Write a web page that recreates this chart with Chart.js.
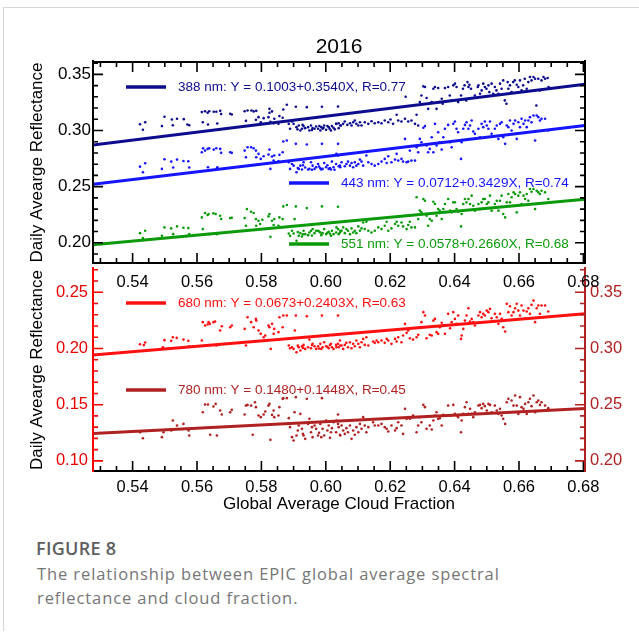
<!DOCTYPE html>
<html>
<head>
<meta charset="utf-8">
<script src="https://cdn.jsdelivr.net/npm/chart.js@4.4.0/dist/chart.umd.min.js"></script>
<style>
  html, body { margin: 0; padding: 0; background: #fff; }
  #wrap { position: relative; width: 639px; height: 633px; overflow: hidden; }
  #frame { position: absolute; left: 3px; top: 7px; width: 700px; height: 623px;
           border-left: 1px solid #d6d6d6; border-top: 1px solid #d6d6d6; }
  canvas { position: absolute; left: 0; top: 0; }
  #capTitle { position: absolute; left: 36px; top: 537px; font: 600 18px/22px 'Open Sans', sans-serif;
              color: #5e5e5e; letter-spacing: 0.3px; white-space: nowrap; }
  #capText { position: absolute; left: 37px; top: 562px; font: 400 16.5px/24px 'Open Sans', sans-serif;
             color: #767676; letter-spacing: 0.9px; white-space: nowrap; }
</style>
</head>
<body>
<div id="wrap">
  <div id="frame"></div>
  <canvas id="lower" width="639" height="530"></canvas>
  <canvas id="upper" width="639" height="300"></canvas>
  <div id="capTitle">FIGURE 8</div>
  <div id="capText">The relationship between EPIC global average spectral<br>reflectance and cloud fraction.</div>
</div>
<script>
// ---- axis ranges and tick labels ----
const xMin = 0.5277, xMax = 0.6805;
const xMajor = [0.54, 0.56, 0.58, 0.60, 0.62, 0.64, 0.66, 0.68];
const upperMin = 0.182, upperMax = 0.361;
const upperMajor = [0.20, 0.25, 0.30, 0.35];
const lowerMin = 0.091, lowerMax = 0.2707;
const lowerMajor = [0.10, 0.15, 0.20, 0.25];
const lowerRightMin = 0.191, lowerRightMax = 0.3707;
const lowerRightMajor = [0.20, 0.25, 0.30, 0.35];

// ---- wavelengths and regression fits (Y = a + bX) ----
const bands = ['388', '443', '551', '680', '780'];
const fitA = [0.1003, 0.0712, 0.0578, 0.0673, 0.1480];
const fitB = [0.3540, 0.3429, 0.2660, 0.2403, 0.1448];
const fitR = [0.77, 0.74, 0.68, 0.63, 0.45];
const bandColors = ['#0c0c8e', '#1414ff', '#0a9a0a', '#ff1010', '#b02222'];

// ---- daily points: [cloud fraction, reflectance] ----
const pts388 = [
[0.5423,0.3056],[0.5439,0.3074],[0.5432,0.3006],[0.5491,0.3039],[0.5499,0.3122],[0.5522,0.3098],[0.5525,0.3047],[0.5538,0.3104],[0.5559,0.3101],[0.5570,0.3053],[0.5576,0.3047],
[0.5615,0.3164],[0.5618,0.3074],[0.5625,0.3172],[0.5633,0.3158],[0.5634,0.3053],[0.5638,0.3172],[0.5652,0.3167],[0.5660,0.3167],[0.5663,0.3062],[0.5672,0.3175],[0.5675,0.3146],[0.5703,0.3149],[0.5708,0.3143],
[0.5748,0.3172],[0.5752,0.3086],[0.5757,0.3178],[0.5769,0.3178],[0.5776,0.3170],[0.5784,0.3175],[0.5783,0.3095],[0.5791,0.3119],[0.5798,0.3074],[0.5807,0.3110],[0.5822,0.3119],[0.5825,0.3193],[0.5825,0.3158],[0.5828,0.3077],[0.5833,0.3170],[0.5838,0.3065],[0.5840,0.3104],[0.5853,0.3059],[0.5856,0.3128],[0.5866,0.3113],[0.5868,0.3187],[0.5879,0.3229],
[0.5885,0.3059],[0.5889,0.3015],[0.5895,0.3080],[0.5900,0.3059],[0.5907,0.3211],[0.5909,0.3030],[0.5912,0.3010],[0.5916,0.3045],[0.5921,0.3000],[0.5926,0.3015],[0.5928,0.3050],[0.5931,0.3039],[0.5936,0.3021],[0.5941,0.3208],[0.5945,0.3030],[0.5949,0.3000],[0.5954,0.3045],[0.5957,0.3005],[0.5959,0.3021],[0.5965,0.3015],[0.5970,0.3036],[0.5976,0.3015],[0.5980,0.3040],[0.5983,0.3000],[0.5986,0.3030],[0.5988,0.3211],[0.5990,0.3015],[0.5993,0.3025],[0.5995,0.3045],[0.6001,0.3006],[0.6005,0.3040],[0.6009,0.3030],[0.6012,0.3015],[0.6016,0.3000],[0.6019,0.3039],[0.6024,0.3024],[0.6028,0.3010],[0.6032,0.3059],[0.6038,0.3214],[0.6040,0.3021],[0.6045,0.3045],
[0.6033,0.3059],[0.6040,0.3065],[0.6047,0.3045],[0.6054,0.3059],[0.6059,0.3080],[0.6067,0.3050],[0.6075,0.3065],[0.6080,0.3045],[0.6085,0.3074],[0.6090,0.3089],[0.6095,0.3059],[0.6101,0.3045],[0.6106,0.3074],[0.6111,0.3045],[0.6121,0.3074],[0.6132,0.3059],[0.6142,0.3083],[0.6152,0.3065],[0.6163,0.3074],[0.6173,0.3065],[0.6183,0.3089],[0.6194,0.3074],[0.6201,0.3098],[0.6209,0.3059],[0.6220,0.3140],[0.6225,0.3089],[0.6235,0.3080],[0.6246,0.3104],[0.6248,0.3300],[0.6256,0.3080],[0.6266,0.3089],[0.6277,0.3059],[0.6282,0.3140],[0.6287,0.3045],
[0.6292,0.3253],[0.6297,0.3312],[0.6303,0.3393],[0.6308,0.3387],[0.6313,0.3289],[0.6318,0.3193],[0.6329,0.3253],[0.6334,0.3372],[0.6339,0.3387],[0.6344,0.3193],[0.6349,0.3378],[0.6354,0.3253],[0.6360,0.3283],[0.6363,0.3238],[0.6370,0.3378],[0.6380,0.3387],[0.6385,0.3312],[0.6391,0.3268],[0.6396,0.3402],[0.6401,0.3417],[0.6406,0.3387],[0.6411,0.3253],[0.6420,0.3312],[0.6426,0.3372],[0.6431,0.3402],[0.6436,0.3268],[0.6440,0.3431],[0.6443,0.3387],[0.6446,0.3408],[0.6451,0.3372],[0.6463,0.3312],[0.6472,0.3387],[0.6474,0.3402],[0.6479,0.3327],[0.6484,0.3357],[0.6489,0.3417],[0.6494,0.3387],[0.6499,0.3372],[0.6505,0.3402],[0.6508,0.3342],[0.6515,0.3417],[0.6520,0.3327],[0.6525,0.3387],[0.6530,0.3357],[0.6536,0.3327],[0.6541,0.3417],[0.6546,0.3372],[0.6551,0.3446],[0.6556,0.3268],[0.6561,0.3238],[0.6565,0.3431],[0.6567,0.3372],[0.6572,0.3402],[0.6577,0.3342],[0.6582,0.3431],[0.6587,0.3446],[0.6593,0.3408],[0.6598,0.3387],[0.6603,0.3446],[0.6608,0.3357],[0.6613,0.3402],[0.6618,0.3461],[0.6624,0.3372],[0.6629,0.3431],[0.6634,0.3476],[0.6639,0.3446],[0.6645,0.3476],[0.6650,0.3461],[0.6654,0.3223],[0.6660,0.3461],[0.6665,0.3357],[0.6670,0.3446],[0.6676,0.3476],[0.6681,0.3461],[0.6689,0.3468],[0.6692,0.3387]
];
const pts443 = [
[0.5423,0.2678],[0.5439,0.2708],[0.5432,0.2628],[0.5491,0.2658],[0.5499,0.2744],[0.5520,0.2723],[0.5526,0.2670],[0.5538,0.2741],[0.5558,0.2729],[0.5573,0.2726],[0.5576,0.2670],
[0.5615,0.2806],[0.5619,0.2842],[0.5625,0.2821],[0.5633,0.2836],[0.5634,0.2673],[0.5638,0.2842],[0.5652,0.2830],[0.5660,0.2842],[0.5663,0.2673],[0.5672,0.2836],[0.5675,0.2801],[0.5703,0.2806],[0.5708,0.2801],
[0.5748,0.2821],[0.5752,0.2762],[0.5757,0.2851],[0.5768,0.2851],[0.5776,0.2842],[0.5783,0.2821],[0.5784,0.2762],[0.5791,0.2792],[0.5798,0.2747],[0.5807,0.2771],[0.5822,0.2786],[0.5825,0.2830],[0.5828,0.2658],[0.5833,0.2768],[0.5838,0.2732],[0.5840,0.2777],[0.5853,0.2726],[0.5856,0.2783],[0.5866,0.2806],[0.5868,0.2902],[0.5879,0.2911],
[0.5885,0.2717],[0.5889,0.2658],[0.5895,0.2702],[0.5900,0.2687],[0.5907,0.2881],[0.5909,0.2628],[0.5913,0.2665],[0.5916,0.2658],[0.5921,0.2687],[0.5926,0.2652],[0.5929,0.2690],[0.5931,0.2717],[0.5936,0.2670],[0.5941,0.2875],[0.5945,0.2652],[0.5949,0.2658],[0.5954,0.2717],[0.5957,0.2650],[0.5959,0.2687],[0.5965,0.2658],[0.5970,0.2673],[0.5976,0.2702],[0.5979,0.2680],[0.5983,0.2664],[0.5986,0.2652],[0.5988,0.2881],[0.5990,0.2658],[0.5995,0.2711],[0.6001,0.2673],[0.6005,0.2690],[0.6009,0.2658],[0.6013,0.2665],[0.6016,0.2652],[0.6019,0.2723],[0.6024,0.2673],[0.6027,0.2650],[0.6032,0.2702],[0.6038,0.2881],[0.6040,0.2681],[0.6045,0.2673],
[0.6033,0.2792],[0.6038,0.2777],[0.6044,0.2687],[0.6049,0.2717],[0.6059,0.2681],[0.6064,0.2702],[0.6069,0.2723],[0.6075,0.2687],[0.6080,0.2711],[0.6085,0.2673],[0.6090,0.2717],[0.6095,0.2687],[0.6101,0.2702],[0.6106,0.2741],[0.6111,0.2723],[0.6116,0.2687],[0.6126,0.2777],[0.6132,0.2717],[0.6142,0.2702],[0.6152,0.2687],[0.6163,0.2702],[0.6173,0.2723],[0.6183,0.2747],[0.6189,0.2711],[0.6194,0.2771],[0.6204,0.2717],[0.6215,0.2741],[0.6220,0.2792],[0.6225,0.2732],[0.6235,0.2747],[0.6240,0.2723],[0.6246,0.2925],[0.6251,0.2717],[0.6256,0.2723],[0.6261,0.2821],[0.6266,0.2732],[0.6277,0.2732],[0.6282,0.2851],[0.6287,0.2806],
[0.6292,0.2925],[0.6297,0.2896],[0.6303,0.3024],[0.6308,0.3039],[0.6313,0.2866],[0.6318,0.2806],[0.6323,0.2836],[0.6329,0.2940],[0.6334,0.2806],[0.6339,0.3059],[0.6344,0.2866],[0.6349,0.2985],[0.6354,0.2896],[0.6360,0.2830],[0.6365,0.2940],[0.6370,0.3015],[0.6380,0.3050],[0.6386,0.2896],[0.6391,0.2851],[0.6396,0.3059],[0.6401,0.3080],[0.6406,0.3015],[0.6411,0.2985],[0.6420,0.2747],[0.6422,0.2896],[0.6427,0.3015],[0.6432,0.3050],[0.6437,0.3074],[0.6443,0.3015],[0.6448,0.3045],[0.6453,0.3089],[0.6458,0.2991],[0.6463,0.2970],[0.6474,0.3015],[0.6479,0.2940],[0.6484,0.3059],[0.6489,0.3030],[0.6494,0.3080],[0.6500,0.3045],[0.6505,0.3015],[0.6510,0.3080],[0.6515,0.2970],[0.6525,0.3015],[0.6531,0.3045],[0.6536,0.2925],[0.6541,0.3059],[0.6546,0.3074],[0.6551,0.2940],[0.6557,0.2881],[0.6562,0.3045],[0.6567,0.3030],[0.6572,0.3089],[0.6577,0.3000],[0.6583,0.3059],[0.6588,0.3089],[0.6593,0.2925],[0.6598,0.3074],[0.6603,0.3030],[0.6608,0.3104],[0.6614,0.3059],[0.6619,0.3089],[0.6624,0.3030],[0.6629,0.3089],[0.6634,0.3119],[0.6639,0.3074],[0.6645,0.3134],[0.6650,0.2911],[0.6655,0.3134],[0.6660,0.3119],[0.6665,0.3089],[0.6670,0.3104],[0.6681,0.3104],[0.6691,0.3000]
];
const pts551 = [
[0.5423,0.2086],[0.5439,0.2107],[0.5432,0.2042],[0.5491,0.2062],[0.5499,0.2137],[0.5520,0.2128],[0.5526,0.2077],[0.5538,0.2146],[0.5558,0.2134],[0.5573,0.2131],[0.5576,0.2077],
[0.5615,0.2226],[0.5618,0.2122],[0.5625,0.2265],[0.5633,0.2247],[0.5636,0.2256],[0.5638,0.2077],[0.5651,0.2262],[0.5658,0.2256],[0.5662,0.2077],[0.5672,0.2241],[0.5675,0.2211],[0.5703,0.2220],[0.5708,0.2223],
[0.5748,0.2220],[0.5752,0.2152],[0.5755,0.2300],[0.5768,0.2277],[0.5776,0.2265],[0.5783,0.2211],[0.5784,0.2152],[0.5791,0.2196],[0.5796,0.2167],[0.5803,0.2205],[0.5822,0.2235],[0.5825,0.2256],[0.5828,0.2053],[0.5833,0.2196],[0.5838,0.2158],[0.5840,0.2211],[0.5853,0.2152],[0.5856,0.2226],[0.5866,0.2211],[0.5868,0.2324],[0.5879,0.2336],
[0.5885,0.2083],[0.5889,0.2062],[0.5895,0.2107],[0.5900,0.2083],[0.5903,0.2211],[0.5907,0.2324],[0.5909,0.2018],[0.5913,0.2095],[0.5916,0.2062],[0.5921,0.2086],[0.5926,0.2056],[0.5929,0.2075],[0.5931,0.2107],[0.5936,0.2077],[0.5941,0.2309],[0.5945,0.2068],[0.5949,0.2092],[0.5954,0.2107],[0.5957,0.2065],[0.5959,0.2122],[0.5965,0.2086],[0.5970,0.2107],[0.5976,0.2107],[0.5979,0.2100],[0.5983,0.2092],[0.5986,0.2068],[0.5988,0.2324],[0.5990,0.2086],[0.5995,0.2122],[0.6001,0.2077],[0.6005,0.2090],[0.6009,0.2098],[0.6013,0.2080],[0.6016,0.2062],[0.6019,0.2107],[0.6024,0.2077],[0.6032,0.2092],[0.6038,0.2321],[0.6040,0.2077],[0.6045,0.2107],
[0.6033,0.2137],[0.6038,0.2122],[0.6044,0.2092],[0.6049,0.2107],[0.6054,0.2137],[0.6059,0.2086],[0.6064,0.2122],[0.6069,0.2107],[0.6075,0.2077],[0.6080,0.2128],[0.6085,0.2092],[0.6090,0.2107],[0.6095,0.2086],[0.6101,0.2146],[0.6106,0.2107],[0.6111,0.2128],[0.6116,0.2181],[0.6121,0.2122],[0.6126,0.2187],[0.6132,0.2107],[0.6142,0.2092],[0.6152,0.2107],[0.6163,0.2137],[0.6173,0.2122],[0.6183,0.2152],[0.6189,0.2187],[0.6194,0.2107],[0.6204,0.2128],[0.6215,0.2167],[0.6220,0.2187],[0.6225,0.2152],[0.6235,0.2181],[0.6240,0.2146],[0.6246,0.2241],[0.6251,0.2122],[0.6256,0.2158],[0.6261,0.2187],[0.6266,0.2137],[0.6277,0.2137],
[0.6282,0.2405],[0.6287,0.2211],[0.6292,0.2286],[0.6297,0.2271],[0.6303,0.2390],[0.6308,0.2375],[0.6313,0.2241],[0.6318,0.2152],[0.6323,0.2211],[0.6329,0.2196],[0.6334,0.2366],[0.6339,0.2345],[0.6344,0.2241],[0.6349,0.2300],[0.6354,0.2286],[0.6360,0.2211],[0.6365,0.2300],[0.6370,0.2345],[0.6380,0.2390],[0.6386,0.2286],[0.6391,0.2271],[0.6396,0.2360],[0.6401,0.2360],[0.6406,0.2300],[0.6411,0.2277],[0.6420,0.2146],[0.6422,0.2256],[0.6427,0.2345],[0.6432,0.2390],[0.6437,0.2360],[0.6443,0.2390],[0.6448,0.2345],[0.6453,0.2420],[0.6458,0.2330],[0.6463,0.2286],[0.6474,0.2345],[0.6479,0.2300],[0.6484,0.2360],[0.6489,0.2390],[0.6494,0.2390],[0.6500,0.2345],[0.6505,0.2360],[0.6510,0.2420],[0.6515,0.2286],[0.6525,0.2345],[0.6531,0.2375],[0.6536,0.2286],[0.6541,0.2375],[0.6546,0.2420],[0.6551,0.2256],[0.6557,0.2226],[0.6562,0.2360],[0.6567,0.2434],[0.6572,0.2360],[0.6577,0.2405],[0.6583,0.2449],[0.6588,0.2434],[0.6593,0.2271],[0.6598,0.2420],[0.6603,0.2449],[0.6608,0.2345],[0.6614,0.2420],[0.6619,0.2390],[0.6624,0.2434],[0.6629,0.2375],[0.6634,0.2479],[0.6639,0.2455],[0.6645,0.2479],[0.6650,0.2300],[0.6655,0.2464],[0.6660,0.2449],[0.6665,0.2434],[0.6670,0.2464],[0.6681,0.2449],[0.6691,0.2390]
];
const pts680 = [
[0.5423,0.2038],[0.5439,0.2053],[0.5435,0.2030],[0.5494,0.2011],[0.5499,0.2074],[0.5520,0.2068],[0.5525,0.2100],[0.5537,0.2094],[0.5558,0.2079],[0.5573,0.2068],[0.5576,0.2020],
[0.5615,0.2071],[0.5618,0.2234],[0.5625,0.2204],[0.5633,0.2213],[0.5636,0.2234],[0.5640,0.2219],[0.5651,0.2234],[0.5656,0.2240],[0.5660,0.2026],[0.5672,0.2160],[0.5677,0.2198],[0.5703,0.2189],[0.5708,0.2204],
[0.5748,0.2174],[0.5752,0.2026],[0.5757,0.2278],[0.5768,0.2234],[0.5776,0.2189],[0.5783,0.2263],[0.5784,0.2248],[0.5791,0.2160],[0.5798,0.2130],[0.5807,0.2100],[0.5812,0.2115],[0.5822,0.2204],[0.5825,0.2189],[0.5829,0.1996],[0.5833,0.2219],[0.5838,0.2130],[0.5840,0.2174],[0.5853,0.2145],[0.5856,0.2278],[0.5866,0.2189],[0.5868,0.2293],[0.5879,0.2293],
[0.5885,0.2026],[0.5889,0.2002],[0.5895,0.2011],[0.5900,0.1996],[0.5904,0.2160],[0.5907,0.2293],[0.5909,0.1967],[0.5913,0.2025],[0.5916,0.2011],[0.5921,0.1982],[0.5926,0.2020],[0.5929,0.2005],[0.5931,0.2032],[0.5936,0.1996],[0.5941,0.2287],[0.5945,0.2011],[0.5949,0.2079],[0.5954,0.2002],[0.5957,0.2030],[0.5959,0.2041],[0.5965,0.2020],[0.5970,0.1996],[0.5976,0.2020],[0.5979,0.2000],[0.5983,0.2041],[0.5986,0.1996],[0.5988,0.2293],[0.5990,0.2011],[0.5995,0.2056],[0.6001,0.2020],[0.6005,0.2015],[0.6009,0.2002],[0.6013,0.2030],[0.6016,0.2041],[0.6019,0.2011],[0.6024,0.1996],[0.6032,0.2032],[0.6038,0.2293],[0.6040,0.2011],[0.6045,0.2026],
[0.6033,0.2011],[0.6038,0.2041],[0.6044,0.2071],[0.6049,0.2026],[0.6054,0.1996],[0.6059,0.2032],[0.6064,0.2050],[0.6069,0.2011],[0.6075,0.2056],[0.6080,0.2002],[0.6085,0.2041],[0.6090,0.2020],[0.6095,0.2071],[0.6101,0.2041],[0.6106,0.2011],[0.6111,0.2056],[0.6116,0.2085],[0.6121,0.2032],[0.6126,0.2100],[0.6132,0.2026],[0.6147,0.2062],[0.6152,0.2050],[0.6158,0.2071],[0.6163,0.2056],[0.6173,0.2071],[0.6183,0.2050],[0.6189,0.2085],[0.6194,0.2071],[0.6204,0.2041],[0.6215,0.2085],[0.6220,0.2062],[0.6225,0.2100],[0.6235,0.2056],[0.6240,0.2115],[0.6246,0.2219],[0.6251,0.2139],[0.6256,0.2160],[0.6261,0.2091],[0.6271,0.2079],[0.6282,0.2100],[0.6287,0.2121],
[0.6292,0.2189],[0.6297,0.2234],[0.6303,0.2323],[0.6308,0.2293],[0.6313,0.2091],[0.6323,0.2121],[0.6329,0.2115],[0.6334,0.2248],[0.6339,0.2263],[0.6344,0.2145],[0.6349,0.2130],[0.6354,0.2189],[0.6360,0.2228],[0.6365,0.2204],[0.6370,0.2130],[0.6380,0.2308],[0.6386,0.2180],[0.6391,0.2234],[0.6396,0.2323],[0.6401,0.2263],[0.6406,0.2219],[0.6411,0.2293],[0.6420,0.2085],[0.6422,0.2115],[0.6427,0.2174],[0.6432,0.2248],[0.6437,0.2293],[0.6443,0.2358],[0.6448,0.2240],[0.6453,0.2263],[0.6458,0.2234],[0.6463,0.2204],[0.6474,0.2293],[0.6479,0.2323],[0.6484,0.2278],[0.6489,0.2308],[0.6494,0.2293],[0.6500,0.2337],[0.6505,0.2323],[0.6510,0.2352],[0.6515,0.2269],[0.6525,0.2308],[0.6531,0.2278],[0.6536,0.2219],[0.6541,0.2308],[0.6546,0.2263],[0.6551,0.2189],[0.6557,0.2151],[0.6562,0.2397],[0.6567,0.2323],[0.6572,0.2376],[0.6577,0.2293],[0.6583,0.2323],[0.6588,0.2358],[0.6593,0.2397],[0.6598,0.2337],[0.6603,0.2293],[0.6608,0.2382],[0.6614,0.2337],[0.6619,0.2269],[0.6624,0.2329],[0.6629,0.2358],[0.6634,0.2308],[0.6639,0.2388],[0.6645,0.2426],[0.6650,0.2234],[0.6655,0.2358],[0.6660,0.2382],[0.6665,0.2308],[0.6670,0.2382],[0.6681,0.2382],[0.6691,0.2329]
];
const pts780 = [
[0.5423,0.2255],[0.5432,0.2202],[0.5491,0.2211],[0.5496,0.2255],[0.5520,0.2270],[0.5525,0.2359],[0.5538,0.2315],[0.5558,0.2329],[0.5574,0.2270],[0.5576,0.2226],
[0.5618,0.2433],[0.5625,0.2501],[0.5634,0.2501],[0.5641,0.2232],[0.5651,0.2484],[0.5658,0.2507],[0.5662,0.2226],[0.5672,0.2448],[0.5677,0.2412],[0.5703,0.2433],[0.5708,0.2454],
[0.5748,0.2412],[0.5752,0.2492],[0.5757,0.2498],[0.5768,0.2492],[0.5773,0.2232],[0.5780,0.2522],[0.5783,0.2478],[0.5791,0.2404],[0.5798,0.2389],[0.5807,0.2412],[0.5812,0.2439],[0.5822,0.2492],[0.5825,0.2507],[0.5828,0.2187],[0.5833,0.2409],[0.5838,0.2448],[0.5840,0.2389],[0.5853,0.2404],[0.5856,0.2478],[0.5866,0.2552],[0.5868,0.2558],[0.5879,0.2558],
[0.5885,0.2380],[0.5889,0.2300],[0.5895,0.2211],[0.5900,0.2181],[0.5903,0.2433],[0.5907,0.2567],[0.5909,0.2226],[0.5913,0.2270],[0.5916,0.2315],[0.5921,0.2418],[0.5926,0.2285],[0.5929,0.2240],[0.5931,0.2226],[0.5936,0.2196],[0.5941,0.2552],[0.5945,0.2329],[0.5949,0.2374],[0.5954,0.2255],[0.5957,0.2300],[0.5959,0.2211],[0.5965,0.2315],[0.5970,0.2285],[0.5976,0.2226],[0.5979,0.2250],[0.5983,0.2329],[0.5986,0.2211],[0.5988,0.2558],[0.5990,0.2285],[0.5995,0.2226],[0.6001,0.2359],[0.6005,0.2270],[0.6009,0.2315],[0.6013,0.2205],[0.6016,0.2255],[0.6019,0.2291],[0.6024,0.2344],[0.6032,0.2255],[0.6038,0.2412],[0.6040,0.2300],[0.6045,0.2226],
[0.6033,0.2359],[0.6038,0.2329],[0.6044,0.2232],[0.6049,0.2315],[0.6054,0.2270],[0.6059,0.2240],[0.6064,0.2291],[0.6069,0.2255],[0.6075,0.2315],[0.6080,0.2196],[0.6085,0.2270],[0.6090,0.2232],[0.6095,0.2300],[0.6101,0.2255],[0.6106,0.2329],[0.6111,0.2285],[0.6116,0.2389],[0.6121,0.2315],[0.6126,0.2255],[0.6132,0.2300],[0.6147,0.2344],[0.6152,0.2315],[0.6163,0.2315],[0.6173,0.2329],[0.6183,0.2300],[0.6189,0.2285],[0.6194,0.2261],[0.6204,0.2315],[0.6215,0.2270],[0.6220,0.2291],[0.6225,0.2344],[0.6235,0.2315],[0.6240,0.2240],[0.6246,0.2463],[0.6251,0.2374],[0.6256,0.2389],[0.6261,0.2374],[0.6271,0.2404],[0.6282,0.2255],[0.6287,0.2315],
[0.6292,0.2389],[0.6297,0.2344],[0.6303,0.2498],[0.6308,0.2478],[0.6313,0.2285],[0.6323,0.2315],[0.6329,0.2279],[0.6334,0.2359],[0.6339,0.2404],[0.6344,0.2433],[0.6349,0.2374],[0.6354,0.2380],[0.6360,0.2315],[0.6365,0.2409],[0.6370,0.2404],[0.6380,0.2492],[0.6386,0.2404],[0.6391,0.2404],[0.6396,0.2498],[0.6401,0.2418],[0.6406,0.2404],[0.6411,0.2389],[0.6420,0.2255],[0.6422,0.2359],[0.6427,0.2418],[0.6432,0.2478],[0.6437,0.2522],[0.6443,0.2418],[0.6448,0.2463],[0.6453,0.2418],[0.6458,0.2389],[0.6463,0.2433],[0.6474,0.2492],[0.6479,0.2498],[0.6484,0.2469],[0.6489,0.2507],[0.6494,0.2487],[0.6500,0.2448],[0.6505,0.2507],[0.6510,0.2498],[0.6515,0.2433],[0.6525,0.2492],[0.6531,0.2448],[0.6536,0.2418],[0.6541,0.2463],[0.6546,0.2404],[0.6551,0.2374],[0.6557,0.2329],[0.6562,0.2522],[0.6567,0.2552],[0.6572,0.2433],[0.6577,0.2537],[0.6583,0.2492],[0.6588,0.2581],[0.6593,0.2492],[0.6598,0.2418],[0.6603,0.2567],[0.6608,0.2478],[0.6614,0.2463],[0.6619,0.2507],[0.6624,0.2418],[0.6629,0.2522],[0.6634,0.2552],[0.6639,0.2487],[0.6645,0.2581],[0.6650,0.2433],[0.6655,0.2522],[0.6660,0.2537],[0.6665,0.2498],[0.6670,0.2522],[0.6681,0.2492],[0.6691,0.2469]
];

// ---- helpers ----
const FONT = "'Liberation Sans', Arial, Helvetica, sans-serif";
Chart.defaults.font.family = FONT;

function minorTicks(majors, parts, lo, hi) {
  const step = (majors[1] - majors[0]) / parts;
  const out = [];
  for (let v = majors[0]; v >= lo - 1e-9; v -= step) out.push(v);
  for (let v = majors[0] + step; v <= hi + 1e-9; v += step) out.push(v);
  return out.filter(v => !majors.some(m => Math.abs(m - v) < step / 10));
}

function pointSet(pts, color, axis) {
  return {
    type: 'scatter',
    data: pts.map(p => ({ x: p[0], y: p[1] })),
    backgroundColor: color, borderColor: color,
    pointRadius: 1.3, pointBorderWidth: 0, pointHoverRadius: 0,
    yAxisID: axis, order: 2
  };
}

function fitSet(i, axis) {
  const ends = [xMin, xMax];
  return {
    type: 'line',
    data: ends.map(x => ({ x: x, y: fitA[i] + fitB[i] * x })),
    borderColor: bandColors[i], borderWidth: 3,
    pointRadius: 0, showLine: true, fill: false,
    yAxisID: axis, order: 1
  };
}

function fitLabel(i) {
  return bands[i] + ' nm: Y = ' + fitA[i].toFixed(4) + '+' + fitB[i].toFixed(4) + 'X, R=' + fitR[i].toFixed(2);
}

// axis lines with inward major/minor ticks on the requested sides
const framePlugin = {
  id: 'frame',
  afterDatasetsDraw(chart, args, opts) {
    const { ctx, chartArea: a } = chart;
    ctx.save();
    ctx.lineCap = 'butt';
    for (const side of opts.sides) {
      const sc = chart.scales[side.scale];
      ctx.strokeStyle = side.color;
      ctx.lineWidth = 1.6;
      ctx.beginPath();
      const mark = (vals, len) => vals.forEach(v => {
        const p = sc.getPixelForValue(v);
        if (side.pos === 'bottom') { ctx.moveTo(p, a.bottom); ctx.lineTo(p, a.bottom - len); }
        else if (side.pos === 'top') { ctx.moveTo(p, a.top); ctx.lineTo(p, a.top + len); }
        else if (side.pos === 'left') { ctx.moveTo(a.left, p); ctx.lineTo(a.left + len, p); }
        else { ctx.moveTo(a.right, p); ctx.lineTo(a.right - len, p); }
      });
      mark(side.major, 10);
      mark(side.minor, 5);
      ctx.stroke();
      ctx.lineWidth = 2;
      ctx.beginPath();
      if (side.pos === 'bottom') { ctx.moveTo(a.left - 1, a.bottom); ctx.lineTo(a.right + 1, a.bottom); }
      else if (side.pos === 'top') { ctx.moveTo(a.left - 1, a.top); ctx.lineTo(a.right + 1, a.top); }
      else if (side.pos === 'left') { ctx.moveTo(a.left, a.top - 2); ctx.lineTo(a.left, a.bottom + 1); }
      else { ctx.moveTo(a.right, a.top - 2); ctx.lineTo(a.right, a.bottom + 1); }
      ctx.stroke();
    }
    ctx.restore();
  }
};

// in-plot key: a line sample followed by the fit equation
const keyPlugin = {
  id: 'fitKey',
  afterDatasetsDraw(chart, args, opts) {
    const { ctx, chartArea: a } = chart;
    ctx.save();
    ctx.font = '13.5px ' + FONT;
    ctx.textBaseline = 'middle';
    ctx.textAlign = 'left';
    for (const k of opts.items) {
      const y = a.top + k.dy;
      ctx.strokeStyle = bandColors[k.band];
      ctx.lineWidth = 3.5;
      ctx.beginPath();
      ctx.moveTo(a.left + k.dx, y);
      ctx.lineTo(a.left + k.dx + 40, y);
      ctx.stroke();
      ctx.fillStyle = bandColors[k.band];
      ctx.fillText(fitLabel(k.band), a.left + k.dx + 52, y);
    }
    ctx.restore();
  }
};

const tickFmt = v => v.toFixed(2);
const noGrid = { display: false, drawTicks: false };
const noBorder = { display: false };

const xMinor = minorTicks(xMajor, 4, xMin, xMax);

// ---- upper panel: 388, 443, 551 nm ----
new Chart(document.getElementById('upper'), {
  type: 'scatter',
  data: {
    datasets: [
      fitSet(0, 'y'), fitSet(1, 'y'), fitSet(2, 'y'),
      pointSet(pts388, bandColors[0], 'y'),
      pointSet(pts443, bandColors[1], 'y'),
      pointSet(pts551, bandColors[2], 'y')
    ]
  },
  options: {
    responsive: false, animation: false, devicePixelRatio: 1,
    layout: { padding: { left: 0, right: 54, top: 0, bottom: 0 } },
    plugins: {
      legend: { display: false }, tooltip: { enabled: false },
      title: { display: true, text: '2016', fullSize: false, color: '#000',
               font: { size: 21, weight: 'normal' }, padding: { top: 35, bottom: 1.8 } },
      frame: { sides: [
        { pos: 'top', scale: 'x', color: '#000', major: xMajor, minor: xMinor },
        { pos: 'bottom', scale: 'x', color: '#000', major: xMajor, minor: xMinor },
        { pos: 'left', scale: 'y', color: '#000', major: upperMajor, minor: minorTicks(upperMajor, 5, upperMin, upperMax) },
        { pos: 'right', scale: 'y', color: '#000', major: upperMajor, minor: minorTicks(upperMajor, 5, upperMin, upperMax) }
      ] },
      fitKey: { items: [
        { band: 0, dx: 33, dy: 25 },
        { band: 1, dx: 196, dy: 121 },
        { band: 2, dx: 196, dy: 182 }
      ] }
    },
    scales: {
      x: {
        type: 'linear', min: xMin, max: xMax, grid: noGrid, border: noBorder,
        ticks: { autoSkip: false, maxRotation: 0, padding: 10, color: '#000', font: { size: 16.5 }, callback: tickFmt },
        afterBuildTicks: s => { s.ticks = xMajor.map(v => ({ value: v })); },
        afterFit: s => { s.height = 37; }
      },
      y: {
        type: 'linear', min: upperMin, max: upperMax, grid: noGrid, border: noBorder,
        ticks: { autoSkip: false, padding: 2, color: '#000', font: { size: 17 }, callback: tickFmt },
        afterBuildTicks: s => { s.ticks = upperMajor.map(v => ({ value: v })); },
        title: { display: true, text: 'Daily Avearge Reflectance', color: '#000', font: { size: 17 }, padding: { top: 27, bottom: 0 } },
        afterFit: s => { s.width = 93; }
      }
    }
  },
  plugins: [framePlugin, keyPlugin]
});

// ---- lower panel: 680 nm (left axis), 780 nm (right axis) ----
new Chart(document.getElementById('lower'), {
  type: 'scatter',
  data: {
    datasets: [
      fitSet(3, 'y'), fitSet(4, 'yr'),
      pointSet(pts680, bandColors[3], 'y'),
      pointSet(pts780, bandColors[4], 'yr')
    ]
  },
  options: {
    responsive: false, animation: false, devicePixelRatio: 1,
    layout: { padding: { left: 0, right: 0, top: 269, bottom: 0 } },
    plugins: {
      legend: { display: false }, tooltip: { enabled: false },
      frame: { sides: [
        { pos: 'bottom', scale: 'x', color: '#000', major: xMajor, minor: xMinor },
        { pos: 'left', scale: 'y', color: '#ff0000', major: lowerMajor, minor: minorTicks(lowerMajor, 5, lowerMin, lowerMax) },
        { pos: 'right', scale: 'yr', color: '#b02222', major: lowerRightMajor, minor: minorTicks(lowerRightMajor, 5, lowerRightMin, lowerRightMax) }
      ] },
      fitKey: { items: [
        { band: 3, dx: 33, dy: 34 },
        { band: 4, dx: 33, dy: 121 }
      ] }
    },
    scales: {
      x: {
        type: 'linear', min: xMin, max: xMax, grid: noGrid, border: noBorder,
        ticks: { autoSkip: false, maxRotation: 0, padding: 7, color: '#000', font: { size: 16.5 }, callback: tickFmt },
        afterBuildTicks: s => { s.ticks = xMajor.map(v => ({ value: v })); },
        title: { display: true, text: 'Global Average Cloud Fraction', color: '#000', font: { size: 17 }, padding: { top: 0, bottom: 15 } },
        afterFit: s => { s.height = 59; }
      },
      y: {
        type: 'linear', position: 'left', min: lowerMin, max: lowerMax, grid: noGrid, border: noBorder,
        ticks: { autoSkip: false, padding: 5, color: '#e80000', font: { size: 16.5 }, callback: tickFmt },
        afterBuildTicks: s => { s.ticks = lowerMajor.map(v => ({ value: v })); },
        title: { display: true, text: 'Daily Avearge Reflectance', color: '#000', font: { size: 17 }, padding: { top: 27, bottom: 0 } },
        afterFit: s => { s.width = 93; }
      },
      yr: {
        type: 'linear', position: 'right', min: lowerRightMin, max: lowerRightMax, grid: noGrid, border: noBorder,
        ticks: { autoSkip: false, padding: 5, color: '#b02222', font: { size: 16.5 }, callback: tickFmt },
        afterBuildTicks: s => { s.ticks = lowerRightMajor.map(v => ({ value: v })); },
        afterFit: s => { s.width = 54; }
      }
    }
  },
  plugins: [framePlugin, keyPlugin]
});
</script>
</body>
</html>
